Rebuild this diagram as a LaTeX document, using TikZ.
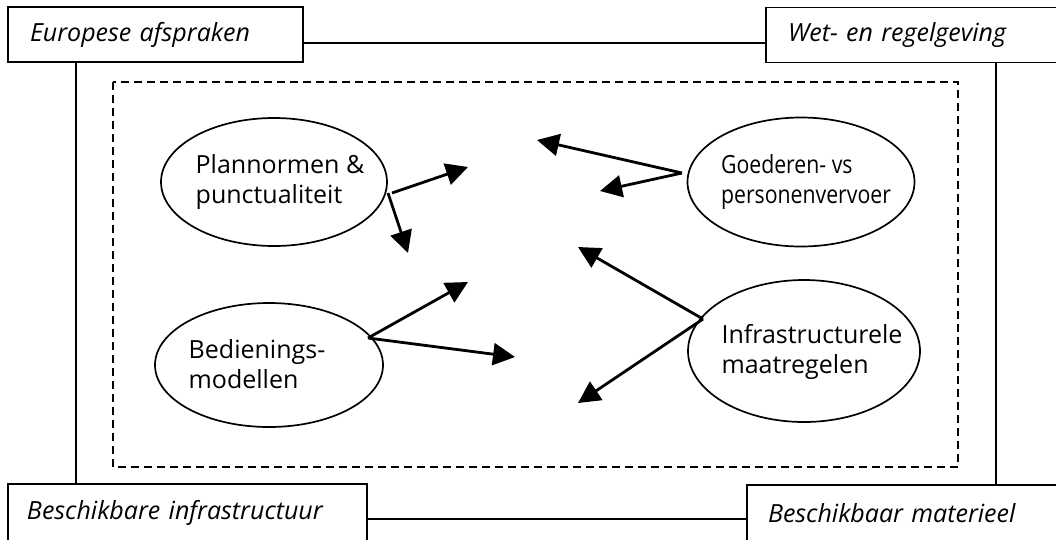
\documentclass[tikz,border=0pt]{standalone}
\usepackage{fontspec}
\usepackage{graphicx}
\setmainfont{Open Sans}
\newcommand{\narrowtxt}[1]{\scalebox{0.85}[1]{#1}}
\usetikzlibrary{arrows.meta,shapes.geometric}
\begin{document}
\begin{tikzpicture}[x=1pt,y=-1pt,
  boxnode/.style={draw,line width=1.8pt,rectangle,inner sep=0pt,minimum height=55pt,font=\fontsize{25}{30}\selectfont\itshape,align=left},
  ovalnode/.style={draw,line width=1.7pt,ellipse,inner sep=0pt},
  ovaltext/.style={inner sep=0pt,font=\fontsize{25}{30}\selectfont,align=left},
  link/.style={line width=1.8pt},
  arr/.style={line width=2.8pt,-{Triangle[length=22pt,width=22pt]}}
]
\clip (0,0) rectangle (1056,539);
\useasboundingbox (0,0) rectangle (1056,539);
% boxes
\node[boxnode,minimum width=295pt,text width=251pt] (tl) at (155.5,34.5) {Europese afspraken};
\node[boxnode,minimum width=304pt,text width=260pt] (tr) at (918,35) {Wet- en regelgeving};
\node[boxnode,minimum width=359pt,minimum height=57pt,text width=321pt] (bl) at (187.5,512.5) {Beschikbare infrastructuur};
\node[boxnode,minimum width=323pt,minimum height=57pt,text width=281pt] (br) at (908.5,513.5) {Beschikbaar materieel};
\draw[link] (tl.east |- 0,43) -- (tr.west |- 0,43);
\draw[link] (bl.east |- 0,519) -- (br.west |- 0,519);
\draw[link] (tl.south -| 76,0) -- (bl.north -| 76,0);
\draw[link] (tr.south -| 996,0) -- (br.north -| 996,0);
% dashed frame
\draw[line width=1.5pt,dash pattern=on 8pt off 5pt] (113,82) rectangle (958,467);
% ellipses
\node[ovalnode,minimum width=226pt,minimum height=128pt] (pl) at (274,182) {};
\node[ovaltext] (plx) at (280,182) {Plannormen \&\\punctualiteit};
\node[ovalnode,minimum width=227pt,minimum height=129pt] (go) at (801,182) {};
\node[ovaltext] (gox) at (806,182) {\narrowtxt{Goederen- vs}\\\narrowtxt{personenvervoer}};
\node[ovalnode,minimum width=228pt,minimum height=124pt] (be) at (269,365) {};
\node[ovaltext] (bex) at (257,364) {Bedienings-\\modellen};
\node[ovalnode,minimum width=232pt,minimum height=142pt] (in) at (804,351) {};
\node[ovaltext] (inx) at (812,352) {Infrastructurele\\maatregelen};
% arrow anchors
\coordinate (pls1) at (392,193);
\coordinate (pls2) at (388,193);
\coordinate (plt1) at (468,167);
\coordinate (plt2) at (408,253);
\coordinate (gos) at (682,173);
\coordinate (got1) at (537,140);
\coordinate (got2) at (600,191);
\coordinate (bes) at (368,338);
\coordinate (bet1) at (468,282);
\coordinate (bet2) at (515,357);
\coordinate (ins) at (703,319);
\coordinate (int1) at (578,247);
\coordinate (int2) at (578,403);
\draw[arr] (pls1) -- (plt1);
\draw[arr] (pls2) -- (plt2);
\draw[arr] (gos) -- (got1);
\draw[arr] (gos) -- (got2);
\draw[arr] (bes) -- (bet1);
\draw[arr] (bes) -- (bet2);
\draw[arr] (ins) -- (int1);
\draw[arr] (ins) -- (int2);
\end{tikzpicture}
\end{document}
